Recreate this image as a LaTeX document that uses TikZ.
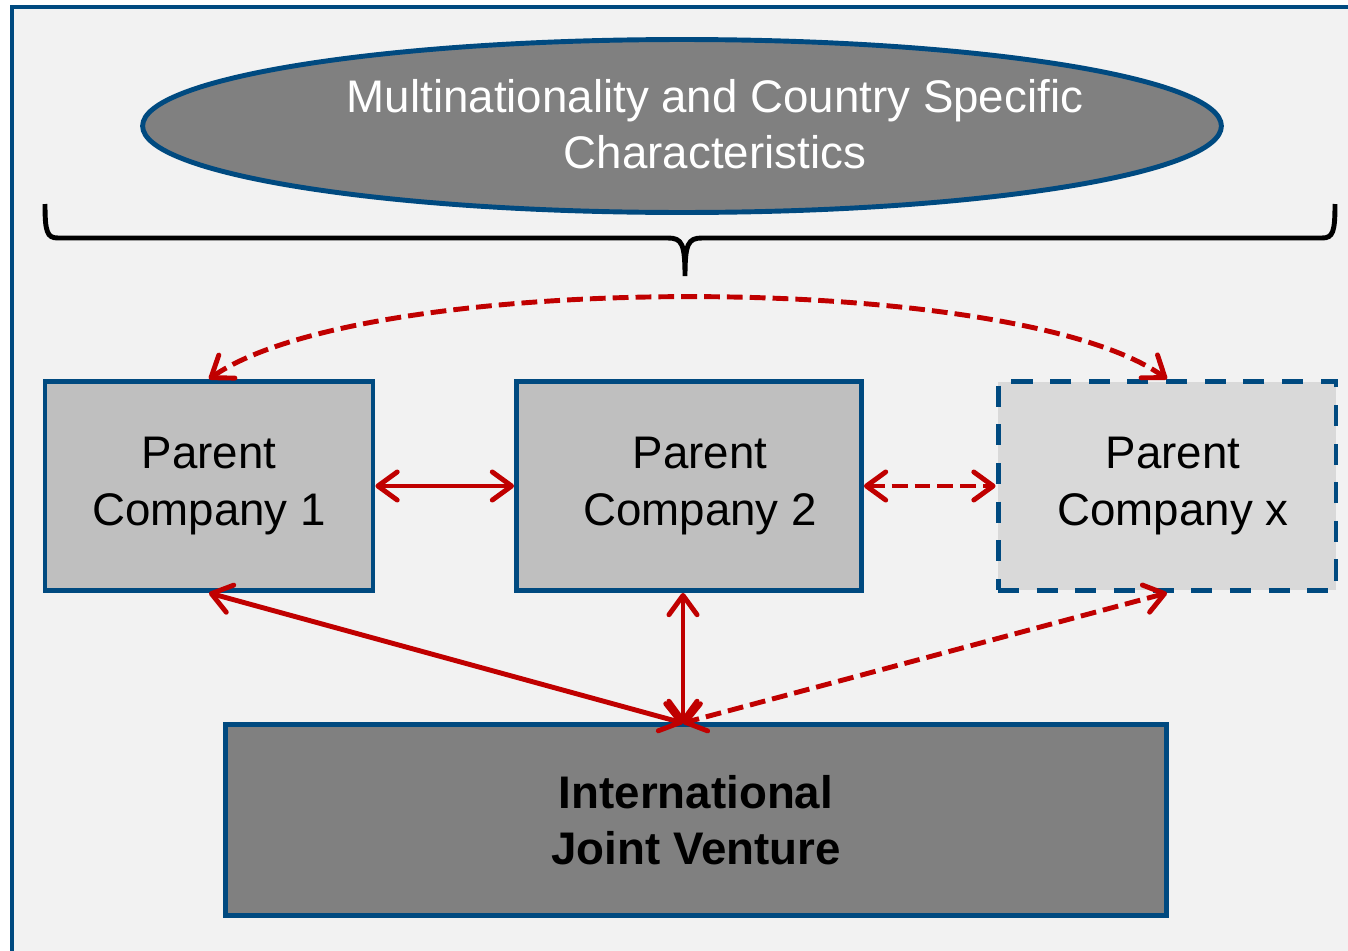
\documentclass[tikz,border=0pt]{standalone}
\usepackage{fontspec}
\setmainfont{Liberation Sans}
\usetikzlibrary{arrows.meta,shapes.geometric}

\definecolor{frameblue}{RGB}{0,74,128}
\definecolor{linkred}{RGB}{192,0,0}
\definecolor{panel}{RGB}{242,242,242}
\definecolor{darkbox}{RGB}{128,128,128}
\definecolor{midbox}{RGB}{191,191,191}
\definecolor{lightbox}{RGB}{217,217,217}

\tikzset{
  firm/.style={draw=frameblue, line width=2.8pt, minimum height=4.18cm,
    inner sep=0pt, align=center, font=\fontsize{26}{32}\selectfont},
  link/.style={draw=linkred, line width=2.8pt,
    {Straight Barb[length=11pt,width=16pt,round]}-{Straight Barb[length=11pt,width=16pt,round]}},
  maybe/.style={dash pattern=on 9pt off 4pt}
}

\begin{document}
\begin{tikzpicture}[x=0.02cm, y=-0.02cm]
\clip (0,0) rectangle (1348,950);
\draw[frameblue, fill=panel, line width=2.8pt] (12,7) rectangle (1380,980);

% context
\node[ellipse, draw=frameblue, fill=darkbox, line width=2.8pt, minimum width=21.58cm,
  minimum height=3.46cm, inner sep=0pt] (ctx) at (682,126) {};
\node[white, align=center, font=\fontsize{26}{32}\selectfont] (ctxtext) at (715,124)
  {Multinationality and Country Specific\\Characteristics};
\draw[line width=2.8pt] (45,204) .. controls (45,232) and (47,238) .. (58,238) -- (668,238)
  .. controls (682,238) and (685,244) .. (685,276)
  .. controls (685,244) and (688,238) .. (702,238) -- (1322,238)
  .. controls (1333,238) and (1335,232) .. (1335,204);

% parents
\node[firm, fill=midbox, minimum width=6.56cm] (pc1) at (209,486) {Parent\\Company 1};
\node[firm, fill=midbox, minimum width=6.9cm] (pc2) at (689,486) {\hspace*{0.44cm}Parent\\\hspace*{0.44cm}Company 2};
\node[firm, fill=lightbox, minimum width=6.76cm, dash pattern=on 12pt off 10pt] (pcx) at (1167,486) {\hspace*{0.24cm}Parent\\\hspace*{0.24cm}Company x};

% joint venture
\node[firm, fill=darkbox, minimum width=18.84cm, minimum height=3.82cm,
  font=\fontsize{26}{32}\selectfont\bfseries] (ijv) at (696,820) {International\\Joint Venture};
\coordinate (hub) at (683,723);

% links
\draw[link] (pc1) -- (pc2);
\draw[link, maybe] (pc2) -- (pcx.west);
\draw[link, maybe] (pc1.north) .. controls +(156,-109) and +(-152,-109) .. (pcx.north);
\draw[link] (pc1.south) -- (hub);
\draw[link] (pc2.south -| hub) -- (hub);
\draw[link, maybe] (pcx.south) -- (hub);
\end{tikzpicture}
\end{document}
